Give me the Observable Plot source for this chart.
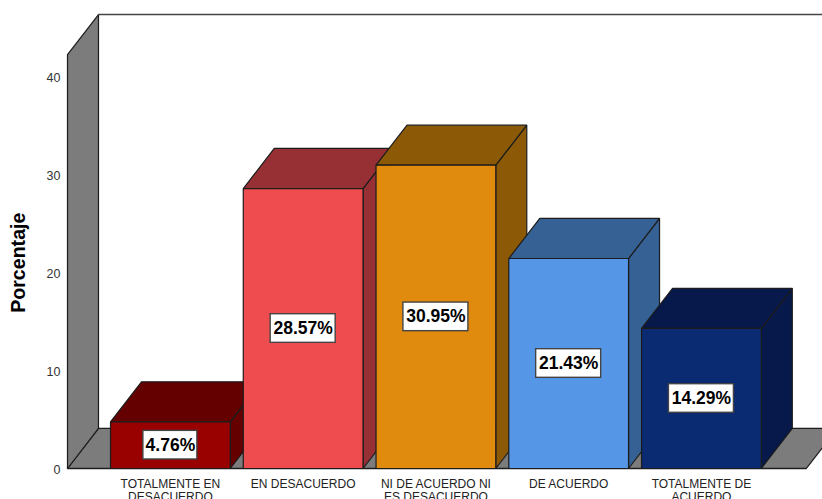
<!DOCTYPE html>
<html>
<head>
<meta charset="utf-8">
<script src="https://cdn.jsdelivr.net/npm/d3@7"></script>
<script src="https://cdn.jsdelivr.net/npm/@observablehq/plot@0.6"></script>
<style>
  html, body { margin: 0; padding: 0; background: #fff; overflow: hidden; }
  svg { display: block; }
</style>
</head>
<body>
<div id="chart"></div>
<script>
// Survey responses: share of answers per agreement level.
const categories = [
  "TOTALMENTE EN\nDESACUERDO",
  "EN DESACUERDO",
  "NI DE ACUERDO NI\nES DESACUERDO",
  "DE ACUERDO",
  "TOTALMENTE DE\nACUERDO"
];
const percentages = [4.76, 28.57, 30.95, 21.43, 14.29];
const frontColors = ["#990000", "#ef4c4f", "#e08a0e", "#5596e6", "#0a2a72"];
const shadeColors = ["#640000", "#963034", "#8c5907", "#356195", "#06194a"];
const yTicks = [0, 10, 20, 30, 40];

// Oblique projection: the depth axis is a shift in both data units.
const depthX = 0.2335;
const depthY = 4.09;
const halfBar = 0.451;
const wallLeft = -0.775;
const floorRight = 4.79;
const wallTop = 42.24;
const xMax = 4.912;
const yMax = 47.76;

const ink = "#1c1c1c";
const wallFill = "#7c7c7c";

// A closed outline in data coordinates.
const face = (points, fill, stroke = ink, clip = false) =>
  Plot.line(points, {
    x: (d) => d[0],
    y: (d) => d[1],
    curve: "linear-closed",
    fill,
    stroke,
    strokeWidth: 1.2,
    strokeLinejoin: "miter",
    clip
  });

// Left wall and floor of the box, then the back-wall edges.
const shell = [
  face([[wallLeft, 0], [wallLeft + depthX, depthY], [floorRight + depthX, depthY], [floorRight, 0]], wallFill, ink, true),
  face([[wallLeft, 0], [wallLeft, wallTop], [wallLeft + depthX, wallTop + depthY], [wallLeft + depthX, depthY]], wallFill),
  Plot.line([[wallLeft + depthX, wallTop + depthY], [xMax, wallTop + depthY]], { stroke: "#444", strokeWidth: 1.4 }),
  Plot.line([[wallLeft, 0], [floorRight, 0]], { stroke: ink, strokeWidth: 1.4 })
];

// Each bar is a side, a top and a front, painted left to right so nearer bars overlap.
const bars = percentages.flatMap((v, i) => {
  const l = i - halfBar;
  const r = i + halfBar;
  return [
    face([[r, 0], [r + depthX, depthY], [r + depthX, v + depthY], [r, v]], shadeColors[i]),
    face([[l, v], [l + depthX, v + depthY], [r + depthX, v + depthY], [r, v]], shadeColors[i]),
    face([[l, 0], [l, v], [r, v], [r, 0]], frontColors[i])
  ];
});

// White value tags centred on each front face; tag width follows the label length.
const tags = percentages.map((v, i) => ({
  x: i,
  y: v / 2,
  text: v.toFixed(2) + "%"
}));
const tagHalfWidth = (d) => (d.text.length * 11 - 1) / 2 / 132.75;
const tagHalfHeight = 1.46;

const chart = Plot.plot({
  width: 822,
  height: 499,
  marginLeft: 67,
  marginRight: 0,
  marginTop: 0,
  marginBottom: 31,
  style: { fontFamily: "'Liberation Sans', Arial, sans-serif", background: "#fff" },
  x: { domain: [wallLeft, xMax], axis: null },
  y: { domain: [0, yMax], axis: null },
  marks: [
    ...shell,
    ...bars,
    Plot.rect(tags, {
      x1: (d) => d.x - tagHalfWidth(d),
      x2: (d) => d.x + tagHalfWidth(d),
      y1: (d) => d.y - tagHalfHeight,
      y2: (d) => d.y + tagHalfHeight,
      fill: "#fff",
      stroke: "#444",
      strokeWidth: 1.4
    }),
    Plot.text(tags, {
      x: "x",
      y: "y",
      text: "text",
      fontSize: 17.5,
      fontWeight: "bold",
      fill: "#000"
    }),
    Plot.axisY({
      ticks: yTicks,
      tickSize: 0,
      tickPadding: 7,
      dy: 1,
      label: null,
      fontSize: 12.5,
      color: "#333"
    }),
    Plot.axisX({
      ticks: [0, 1, 2, 3, 4],
      tickFormat: (i) => categories[i],
      tickSize: 0,
      tickPadding: 10,
      label: null,
      fontSize: 12,
      lineHeight: 1.08,
      lineWidth: 30,
      color: "#222"
    }),
    Plot.text(["Porcentaje"], {
      frameAnchor: "left",
      textAnchor: "middle",
      y: () => 21,
      rotate: -90,
      dx: -49,
      fontSize: 19.6,
      fontWeight: "bold",
      fill: "#000"
    })
  ]
});
document.getElementById("chart").append(chart);
</script>
</body>
</html>
